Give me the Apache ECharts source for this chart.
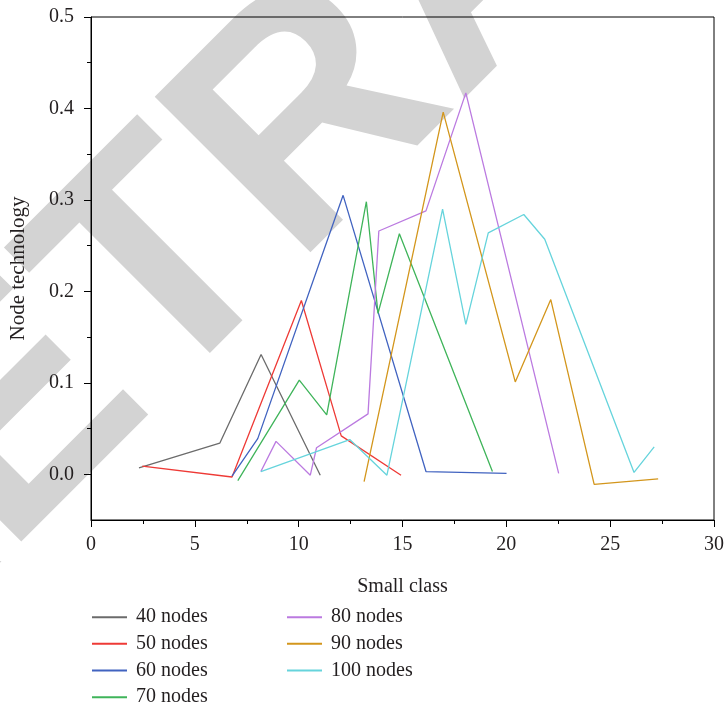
<!DOCTYPE html>
<html>
<head>
<meta charset="utf-8">
<script src="https://cdn.jsdelivr.net/npm/echarts@6/dist/echarts.min.js"></script>
<style>
  html, body { margin: 0; padding: 0; background: #fff; }
  #chart { width: 727px; height: 705px; }
</style>
</head>
<body>
<div id="chart"></div>
<script>
// series names, in legend order
const seriesNames = ['40 nodes', '50 nodes', '60 nodes', '70 nodes', '80 nodes', '90 nodes', '100 nodes'];

// values (x = small class, y = node technology)
const x40 = [2.31, 6.20, 8.19, 11.04];
const y40 = [0.007, 0.034, 0.131, -0.001];
const x50 = [2.47, 6.79, 10.13, 12.05, 14.93];
const y50 = [0.009, -0.003, 0.190, 0.042, -0.001];
const x60 = [6.79, 8.03, 12.14, 16.13, 20.01];
const y60 = [-0.002, 0.039, 0.305, 0.003, 0.001];
const x70 = [7.07, 10.03, 11.35, 13.26, 13.82, 14.85, 19.33];
const y70 = [-0.007, 0.103, 0.065, 0.298, 0.176, 0.263, 0.003];
const x80 = [8.18, 8.91, 10.56, 10.86, 13.34, 13.86, 16.13, 18.05, 22.52];
const y80 = [0.003, 0.036, -0.001, 0.029, 0.066, 0.266, 0.288, 0.417, 0.001];
const x90 = [13.15, 16.96, 20.43, 22.14, 24.23, 27.31];
const y90 = [-0.008, 0.396, 0.101, 0.191, -0.011, -0.005];
const x100 = [8.18, 12.46, 14.25, 16.93, 18.05, 19.13, 20.84, 21.85, 26.15, 27.12];
const y100 = [0.003, 0.038, -0.001, 0.290, 0.164, 0.264, 0.284, 0.257, 0.002, 0.030];

// tick values
const yMajorTicks = [0, 0.1, 0.2, 0.3, 0.4, 0.5];
const yMinorTicks = [0.05, 0.15, 0.25, 0.35, 0.45];

const colors = ['#6b6b6b', '#ee3a36', '#4163c0', '#3fb45a', '#bb7ae0', '#d3961c', '#66d4dc'];
const xs = [x40, x50, x60, x70, x80, x90, x100];
const ys = [y40, y50, y60, y70, y80, y90, y100];

const FONT = '"Liberation Serif", "Times New Roman", serif';
const INK = '#231f20';

const chart = echarts.init(document.getElementById('chart'), null, { renderer: 'canvas' });

const series = seriesNames.map(function (name, i) {
    return {
        name: name,
        type: 'line',
        symbol: 'none',
        color: colors[i],
        lineStyle: { width: 1.3, color: colors[i] },
        data: xs[i].map(function (x, j) { return [x, ys[i][j]]; }),
        z: 3
    };
});

const legendBase = {
    orient: 'vertical',
    padding: 0,
    height: 110,
    icon: 'rect',
    itemWidth: 35,
    itemHeight: 2,
    itemGap: 6.67,
    textStyle: { fontFamily: FONT, fontSize: 20, color: INK, lineHeight: 18, padding: [0, 0, 0, 4] }
};

const option = {
    animation: false,
    backgroundColor: '#fff',
    grid: {
        left: 90,
        right: 11,
        top: 17,
        bottom: 185,
        show: true,
        borderColor: '#000',
        borderWidth: 1,
        backgroundColor: 'transparent'
    },
    // "RETRACTED" stamp behind the plot
    graphic: [{
        type: 'text',
        x: 478,
        y: -40,
        rotation: Math.PI / 4,
        z: -10,
        silent: true,
        style: {
            text: 'RETRACTED',
            fontFamily: '"Liberation Sans", Arial, sans-serif',
            fontWeight: 'bold',
            fontSize: 320,
            fill: '#d3d3d3',
            align: 'center',
            verticalAlign: 'middle'
        }
    }],
    legend: [
        Object.assign({}, legendBase, { left: 92, top: 607.2, data: seriesNames.slice(0, 4) }),
        Object.assign({}, legendBase, { left: 287, top: 607.2, data: seriesNames.slice(4) })
    ],
    xAxis: {
        type: 'value',
        min: 0,
        max: 30,
        interval: 5,
        name: 'Small class',
        nameLocation: 'middle',
        nameGap: 57,
        nameTextStyle: { fontFamily: FONT, fontSize: 20, color: INK },
        axisLine: { onZero: false, lineStyle: { color: '#000', width: 1 } },
        axisTick: { inside: false, length: 7, lineStyle: { color: '#000' } },
        minorTick: { show: true, splitNumber: 2, length: 4, lineStyle: { color: '#000' } },
        axisLabel: { margin: 15, fontFamily: FONT, fontSize: 20, color: INK },
        splitLine: { show: false }
    },
    yAxis: [
        {
            type: 'value',
            min: -0.05,
            max: 0.5,
            position: 'left',
            axisLine: { show: true, onZero: false, lineStyle: { color: '#000', width: 1 } },
            axisTick: { show: true, inside: false, length: 4, customValues: yMinorTicks, lineStyle: { color: '#000' } },
            axisLabel: { show: false },
            splitLine: { show: false }
        },
        {
            type: 'value',
            min: -0.05,
            max: 0.5,
            position: 'left',
            name: 'Node technology',
            nameLocation: 'middle',
            nameGap: 62,
            nameTextStyle: { fontFamily: FONT, fontSize: 21, color: INK },
            axisLine: { show: false, onZero: false },
            axisTick: { show: true, inside: false, length: 7, customValues: yMajorTicks, lineStyle: { color: '#000' } },
            axisLabel: {
                margin: 17,
                customValues: yMajorTicks,
                fontFamily: FONT,
                fontSize: 20,
                color: INK,
                formatter: function (v) { return v.toFixed(1); }
            },
            splitLine: { show: false }
        }
    ],
    series: series
};

chart.setOption(option);
</script>
</body>
</html>
